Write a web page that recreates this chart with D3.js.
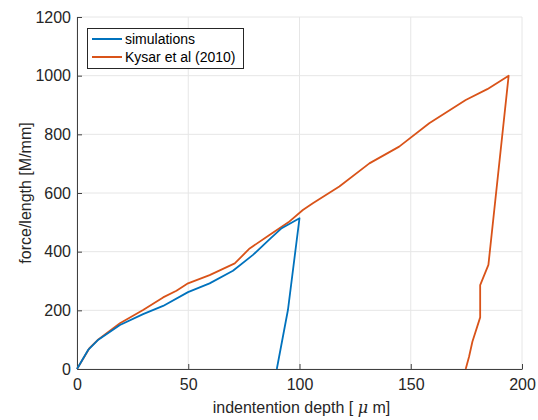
<!DOCTYPE html>
<html>
<head>
<meta charset="utf-8">
<script src="https://cdn.jsdelivr.net/npm/d3@7"></script>
<style>
  body { margin: 0; background: #fff; }
  text { font-family: "Liberation Sans", Arial, sans-serif; }
</style>
</head>
<body>
<div id="chart"></div>
<script>
// simulation curve (loading then unloading)
var simDepth = [0, 5, 9.6, 19.3, 29.7, 38.7, 49.9, 59.6, 70.1, 79.1, 86.5, 92, 100, 94.8, 89.8];
var simForce = [0, 65, 100, 150, 187, 215, 262, 292, 335, 389, 442, 480, 514, 201, 0];

// Kysar et al (2010)
var kysarDepth = [0, 5.5, 9.6, 19.3, 29.7, 38.7, 44.7, 49.9, 59.6, 70.9, 77.6, 86.5, 95, 101.5, 106, 117.9, 131.4, 144.8, 158.3, 174.7, 184.4, 194, 184.9, 181.2, 181.2, 177.7, 176.2, 174.7];
var kysarForce = [0, 70, 101, 156, 201, 244, 267, 292, 320, 360, 411, 457, 500, 542, 565, 622, 701, 758, 838, 917, 954, 1000, 355, 286, 176, 93, 42, 0];

var xTicks = [0, 50, 100, 150, 200];
var yTicks = [0, 200, 400, 600, 800, 1000, 1200];
var seriesNames = ["simulations", "Kysar et al (2010)"];
var seriesColors = ["#0072bd", "#d95319"];

var width = 538, height = 420;
var margin = {left: 77, right: 16, top: 17, bottom: 51};

var svg = d3.select("#chart").append("svg")
    .attr("width", width)
    .attr("height", height);

var x = d3.scaleLinear().domain([0, 200]).range([margin.left, width - margin.right]);
var y = d3.scaleLinear().domain([0, 1200]).range([height - margin.bottom, margin.top]);

// grid
svg.append("g").selectAll("line").data(xTicks).enter().append("line")
    .attr("x1", function(d) { return x(d); }).attr("x2", function(d) { return x(d); })
    .attr("y1", y(0)).attr("y2", y(1200))
    .style("stroke", "#e6e6e6").style("stroke-width", 1);
svg.append("g").selectAll("line").data(yTicks).enter().append("line")
    .attr("y1", function(d) { return y(d); }).attr("y2", function(d) { return y(d); })
    .attr("x1", x(0)).attr("x2", x(200))
    .style("stroke", "#e6e6e6").style("stroke-width", 1);

// axes
var xAxis = svg.append("g")
    .attr("transform", "translate(0," + y(0) + ")")
    .call(d3.axisBottom(x).tickValues(xTicks).tickFormat(d3.format("d"))
      .tickSizeInner(-5).tickSizeOuter(0).tickPadding(10));
var yAxis = svg.append("g")
    .attr("transform", "translate(" + x(0) + ",0)")
    .call(d3.axisLeft(y).tickValues(yTicks).tickFormat(d3.format("d"))
      .tickSizeInner(-5).tickSizeOuter(0).tickPadding(6));

[xAxis, yAxis].forEach(function(a) {
  a.select(".domain").style("stroke", "#404040").style("stroke-width", 1);
  a.selectAll(".tick line").style("stroke", "#404040");
  a.selectAll(".tick text").style("fill", "#262626").style("font-size", "16px")
    .style("font-family", "'Liberation Sans', Arial, sans-serif");
});

// lines
var line = d3.line()
    .x(function(d) { return x(d[0]); })
    .y(function(d) { return y(d[1]); });

var simData = d3.zip(simDepth, simForce);
var kysarData = d3.zip(kysarDepth, kysarForce);

svg.append("path").datum(kysarData)
    .attr("d", line)
    .style("fill", "none").style("stroke", seriesColors[1]).style("stroke-width", 1.8)
    .style("stroke-linejoin", "round");
svg.append("path").datum(simData)
    .attr("d", line)
    .style("fill", "none").style("stroke", seriesColors[0]).style("stroke-width", 1.8)
    .style("stroke-linejoin", "round");

// labels
svg.append("text")
    .attr("x", (x(0) + x(200)) / 2 + 2).attr("y", 413)
    .attr("text-anchor", "middle")
    .style("font-size", "16px").style("fill", "#262626")
    .html('indentention depth [ <tspan font-style="italic" font-family="DejaVu Serif">\u03bc</tspan> m]');

svg.append("text")
    .attr("transform", "translate(31," + ((y(0) + y(1200)) / 2) + ") rotate(-90)")
    .attr("text-anchor", "middle")
    .style("font-size", "16px").style("fill", "#262626")
    .text("force/length [M/mm]");

// legend
var legend = svg.append("g");
legend.append("rect")
    .attr("x", 87.5).attr("y", 28.5).attr("width", 156).attr("height", 40)
    .style("fill", "#fff").style("stroke", "#262626").style("stroke-width", 1);
seriesNames.forEach(function(name, i) {
  var ly = 39 + i * 18;
  legend.append("line")
      .attr("x1", 92).attr("x2", 122).attr("y1", ly).attr("y2", ly)
      .style("stroke", seriesColors[i]).style("stroke-width", 2);
  legend.append("text")
      .attr("x", 125).attr("y", ly + 5)
      .style("font-size", "14px").style("fill", "#000")
      .text(name);
});
</script>
</body>
</html>
